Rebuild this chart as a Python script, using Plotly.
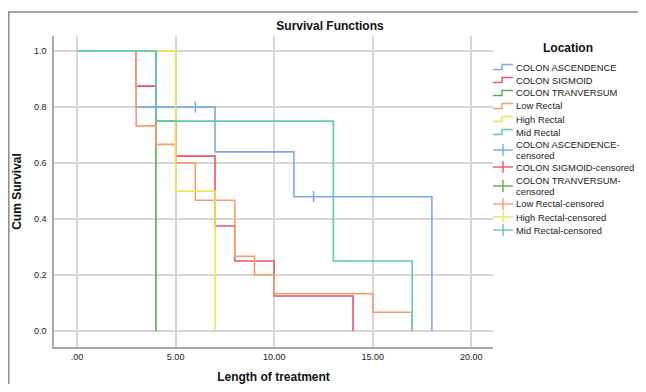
import plotly.graph_objects as go

# ---- data ----
series_names = ["COLON ASCENDENCE", "COLON SIGMOID", "COLON TRANVERSUM",
                "Low Rectal", "High Rectal", "Mid Rectal"]
series_colors = ["#7ea8e4", "#e8546a", "#62a852", "#f89c6c", "#ece35c", "#5ecab2"]

asc_t = [0, 3, 7, 11, 18]
asc_s = [1.0, 0.8, 0.64, 0.48, 0.0]
sig_t = [0, 3, 4, 5, 7, 8, 10, 14]
sig_s = [1.0, 0.875, 0.75, 0.625, 0.375, 0.25, 0.125, 0.0]
tra_t = [0, 4]
tra_s = [1.0, 0.0]
low_t = [0, 3, 4, 5, 6, 8, 9, 10, 15, 17]
low_s = [1.0, 0.733, 0.667, 0.6, 0.467, 0.267, 0.2, 0.133, 0.067, 0.0]
high_t = [0, 5, 7]
high_s = [1.0, 0.5, 0.0]
mid_t = [0, 4, 13, 17]
mid_s = [1.0, 0.75, 0.25, 0.0]

# censored observations (COLON ASCENDENCE only)
asc_cens_t = [6, 12]
asc_cens_s = [0.8, 0.48]

x_tickvals = [0, 5, 10, 15, 20]
x_ticktext = [".00", "5.00", "10.00", "15.00", "20.00"]
y_tickvals = [0.0, 0.2, 0.4, 0.6, 0.8, 1.0]
y_ticktext = ["0.0", "0.2", "0.4", "0.6", "0.8", "1.0"]

legend_rows = [
    ["COLON ASCENDENCE"], ["COLON SIGMOID"], ["COLON TRANVERSUM"],
    ["Low Rectal"], ["High Rectal"], ["Mid Rectal"],
    ["COLON ASCENDENCE-", "censored"], ["COLON SIGMOID-censored"],
    ["COLON TRANVERSUM-", "censored"], ["Low Rectal-censored"],
    ["High Rectal-censored"], ["Mid Rectal-censored"],
]

curves = [(asc_t, asc_s), (sig_t, sig_s), (tra_t, tra_s),
          (low_t, low_s), (high_t, high_s), (mid_t, mid_s)]

fig = go.Figure()
for name, color, (t, s) in zip(series_names, series_colors, curves):
    fig.add_trace(go.Scatter(x=t, y=s, mode="lines", line_shape="hv",
                             line=dict(color=color, width=1.6), name=name,
                             showlegend=False, hoverinfo="x+y"))
fig.add_trace(go.Scatter(x=asc_cens_t, y=asc_cens_s, mode="markers",
                         marker=dict(symbol="line-ns", size=8,
                                     line=dict(color=series_colors[0], width=1.6)),
                         name="COLON ASCENDENCE-censored", showlegend=False))

# ---- layout geometry ----
# The page body has an 8px margin on every side, so the figure is drawn
# smaller (no scrollbars) and reference pixel positions are shifted by OFF.
OFF = 8
W, H = 646 - 2 * OFF, 392 - 2 * OFF
PLOT_RIGHT, PLOT_BOTTOM = 493 - OFF, 347 - OFF
L, T = 54 - OFF, 36 - OFF
R, B = W - PLOT_RIGHT, H - PLOT_BOTTOM
pw, ph = W - L - R, H - T - B


def px(xp):
    return (xp - OFF - L) / pw


def py(yp):
    return (H - B - (yp - OFF)) / ph


shapes = []
annotations = []

# outer frame (top and left edges; the rest runs off the picture)
shapes.append(dict(type="path", xref="paper", yref="paper",
                   path="M {},{} L {},{} L {},{}".format(
                       px(8.8), py(400), px(8.8), py(12), px(646), py(12)),
                   line=dict(color="#8a8a8a", width=1.5), layer="below"))

# custom legend
font_fam = "Liberation Sans, Arial"
annotations.append(dict(xref="paper", yref="paper", x=px(568), y=py(48),
                        text="<b>Location</b>", showarrow=False,
                        font=dict(size=12, color="#111111", family=font_fam),
                        xanchor="center", yanchor="middle"))
row_y = [67, 80, 93, 106, 119, 132, 150, 167, 186, 204, 217, 230]
n_series = len(series_names)
for i, lines in enumerate(legend_rows):
    yc = row_y[i]
    color = series_colors[i % n_series]
    if i < n_series:
        # step symbol
        shapes.append(dict(type="path", xref="paper", yref="paper",
                           path="M {},{} L {},{} L {},{} L {},{}".format(
                               px(493), py(yc + 2.5), px(502), py(yc + 2.5),
                               px(502), py(yc - 2.5), px(513), py(yc - 2.5)),
                           line=dict(color=color, width=1.4)))
    else:
        shapes.append(dict(type="line", xref="paper", yref="paper",
                           x0=px(493), x1=px(513), y0=py(yc), y1=py(yc),
                           line=dict(color=color, width=1.4)))
        shapes.append(dict(type="line", xref="paper", yref="paper",
                           x0=px(503), x1=px(503), y0=py(yc - 6), y1=py(yc + 6),
                           line=dict(color=color, width=1.4)))
    nl = len(lines)
    for j, txt in enumerate(lines):
        ty = yc + (j - (nl - 1) / 2) * 10.6
        annotations.append(dict(xref="paper", yref="paper", x=px(514), y=py(ty),
                                text=txt, showarrow=False, xanchor="left",
                                yanchor="middle",
                                font=dict(size=9.4, color="#222222", family=font_fam)))

fig.update_layout(
    width=W, height=H,
    margin=dict(l=L, r=R, t=T, b=B, autoexpand=False),
    paper_bgcolor="white", plot_bgcolor="white",
    title=dict(text="<b>Survival Functions</b>", x=(330 - OFF) / W, xanchor="center",
               y=1 - (26 - OFF) / H, yanchor="middle",
               font=dict(size=12, color="#111111", family=font_fam)),
    xaxis=dict(range=[-1.17, 21.1], tickvals=x_tickvals, ticktext=x_ticktext,
               showgrid=True, gridcolor="#d6d6d6", gridwidth=1.5, zeroline=False,
               showline=True, linecolor="#a8a8a8", linewidth=1.5, ticks="",
               tickfont=dict(size=9, color="#222222",
                             family="Liberation Sans Narrow, Liberation Sans"),
               title=dict(text="<b>Length of treatment</b>", standoff=14,
                          font=dict(size=12, color="#111111", family=font_fam)),
               automargin=False),
    yaxis=dict(range=[-0.057, 1.054], tickvals=y_tickvals, ticktext=y_ticktext,
               showgrid=True, gridcolor="#d6d6d6", gridwidth=1.5, zeroline=False,
               showline=True, linecolor="#a8a8a8", linewidth=1.5, ticks="",
               ticklabelstandoff=4,
               tickfont=dict(size=9, color="#222222",
                             family="Liberation Sans Narrow, Liberation Sans"),
               title=dict(text="<b>Cum Survival</b>", standoff=10,
                          font=dict(size=12, color="#111111", family=font_fam)),
               automargin=False),
    shapes=shapes, annotations=annotations, showlegend=False,
)

fig.write_html("out.html")
